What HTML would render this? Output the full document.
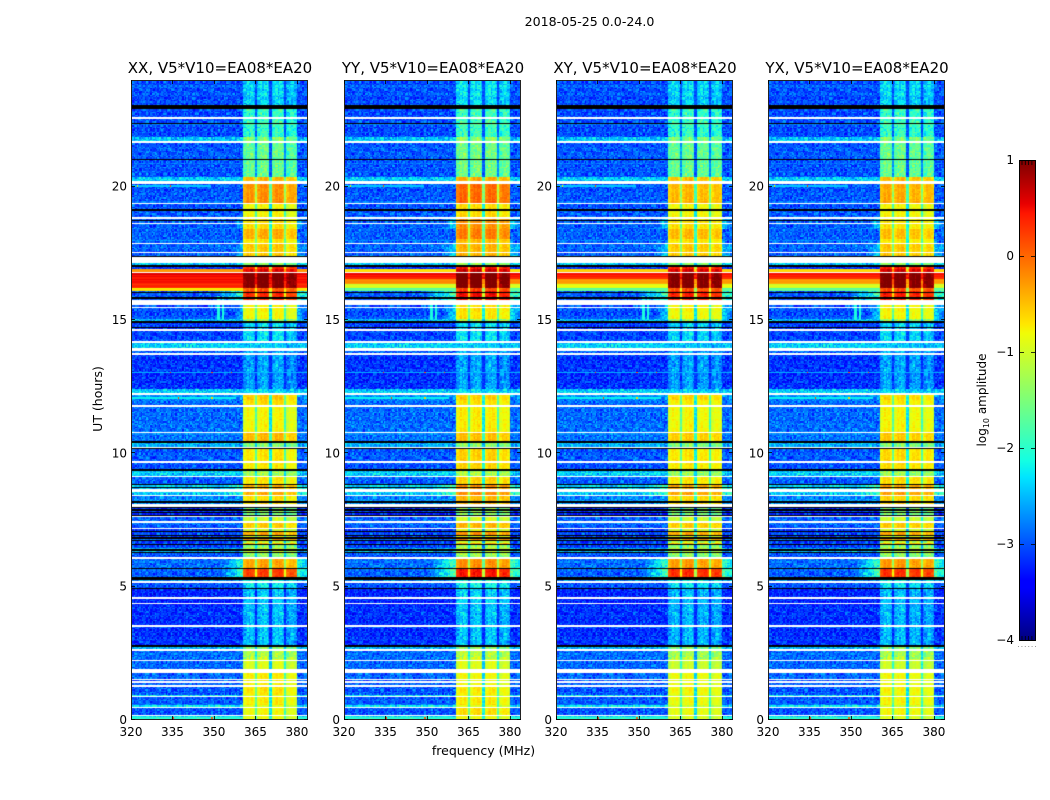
<!DOCTYPE html>
<html lang="en">
<head>
<meta charset="utf-8">
<title>2018-05-25 spectrogram</title>
<style>
html,body{margin:0;padding:0;background:#fff;}
#figure{position:relative;width:1050px;height:800px;overflow:hidden;background:#fff;}
canvas{position:absolute;top:80px;display:block;}
svg{position:absolute;left:0;top:0;}
text{font-family:"DejaVu Sans","Liberation Sans",sans-serif;fill:#000;}
</style>
</head>
<body>
<div id="figure">
<canvas id="heat0" width="177" height="640" style="left:131px"></canvas>
<canvas id="heat1" width="177" height="640" style="left:344px"></canvas>
<canvas id="heat2" width="177" height="640" style="left:556px"></canvas>
<canvas id="heat3" width="177" height="640" style="left:768px"></canvas>
<svg id="overlay" width="1050" height="800" viewBox="0 0 1050 800">
<defs>
<linearGradient id="jetGradient" x1="0" y1="1" x2="0" y2="0">
<stop offset="0" stop-color="#00007f"/><stop offset="0.11" stop-color="#0000ff"/>
<stop offset="0.125" stop-color="#0000ff"/><stop offset="0.34" stop-color="#00e5ff"/>
<stop offset="0.375" stop-color="#14ffe2"/><stop offset="0.5" stop-color="#7cff79"/>
<stop offset="0.64" stop-color="#f1fc06"/><stop offset="0.66" stop-color="#ffe600"/>
<stop offset="0.89" stop-color="#ff1600"/><stop offset="0.91" stop-color="#e80000"/>
<stop offset="1" stop-color="#7f0000"/>
</linearGradient>
</defs>
<text x="589.5" y="26" text-anchor="middle" font-size="12.6">2018-05-25 0.0-24.0</text>
<text x="102" y="399" text-anchor="middle" font-size="12.5" transform="rotate(-90 102 399)">UT (hours)</text>
<text x="483.5" y="755" text-anchor="middle" font-size="12.5">frequency (MHz)</text>
<rect x="1019.5" y="160.5" width="16" height="480" fill="url(#jetGradient)" stroke="#000" stroke-width="1"/>
<text x="986" y="400" text-anchor="middle" font-size="12" transform="rotate(-90 986 400)">log<tspan dy="3" font-size="8">10</tspan><tspan dy="-3"> amplitude</tspan></text>
</svg>
</div>
<script>
/* Values below are estimated by eye from the reference, one level per time segment.
   Individual pixels cannot be read, so speckleA/speckleB are a hand-typed visual grain,
   not measured data. */
const polarisations = ['XX', 'YY', 'XY', 'YX'];
const panelTitles = ['XX, V5*V10=EA08*EA20', 'YY, V5*V10=EA08*EA20', 'XY, V5*V10=EA08*EA20', 'YX, V5*V10=EA08*EA20'];
const freqTicks = [320, 335, 350, 365, 380];
const hourTicks = [0, 5, 10, 15, 20];
const colorbarTicks = [1, 0, -1, -2, -3, -4];

const segmentStartHour = [0,.15,.47,.55,.86,.97,1.29,1.9,2.3,2.61,
 2.8,4.4,4.9,5.15,5.33,5.7,6.09,6.29,6.45,6.55,
 6.65,6.75,6.85,6.95,7.05,7.15,7.41,7.62,7.71,8.01,
 8.45,8.8,9.13,9.4,10.16,10.4,10.8,11.78,12.0,12.27,
 12.4,13.71,13.95,14.16,14.9,15.07,15.75,16.12,16.2,16.35,
 16.55,16.77,16.8,16.92,17.03,17.33,17.9,18.05,18.4,18.8,
 19.4,20.14,20.36,21.68,21.83,22.95];
const offBandLevel = [-2.3,-2.95,-2.2,-2.95,-2.2,-2.95,-2.9,-2.9,-2.85,-2.5,
 -3.15,-3.2,-3.0,-2.7,-2.9,-2.85,-3.0,-2.5,-3.1,-3.0,
 -3.1,-2.9,-3.1,-3.0,-3.1,-2.9,-2.9,-2.6,-3.2,-2.7,
 -2.45,-2.9,-2.4,-2.95,-2.5,-2.8,-2.85,-2.85,-2.7,-2.35,
 -3.15,-2.9,-2.35,-3.05,-2.5,-3.0,-2.95,-0.7,0.3,0.45,
 0.5,0,-0.2,-3.1,-2.4,-2.9,-2.9,-2.9,-2.9,-2.95,
 -2.95,-2.4,-2.95,-2.4,-3.0,-3.0];
const inBandXX = [-.9,-.85,-1,-.8,-1,-.75,-.8,-1,-1.25,-1.45,
 -2.5,-2.45,-2.3,-2.1,.15,-.4,-1.5,-1.1,-1.5,-.5,
 -1.2,-.3,-1,-.4,-1.1,-.6,-1.1,-1.3,-1.6,-.7,
 -.45,-.75,-1.35,-.75,-1.5,-.5,-.85,-.7,-.6,-2.3,
 -2.65,-2.6,-2.4,-2.35,-1.4,-.85,.25,0,.95,.95,
 1,.6,.5,.3,-1.5,-.6,-.75,-.45,-.7,-.85,
 -.3,-.5,-1.7,-1.5,-2.0,-2.4];
const inBandYY = [-.9,-.7,-1,-.8,-1,-.8,-.9,-1,-1.2,-1.45,
 -2.5,-2.4,-2.25,-2.1,.35,-.3,-1.4,-1.1,-1.4,-.4,
 -1.1,-.2,-.9,-.3,-1,-.5,-1.05,-1.3,-1.5,-.5,
 -.3,-.65,-1.3,-.65,-1.45,-.55,-.8,-.75,-.65,-2.3,
 -2.65,-2.6,-2.4,-2.35,-1.35,-.75,.4,.1,.95,1,
 1,.7,.6,.4,-1.4,-.5,-.55,-.2,-.3,-.7,
 -.1,-.45,-1.65,-1.45,-1.95,-2.35];
const inBandXY = [-1,-.9,-1.1,-.9,-1.1,-.85,-.9,-1.1,-1.3,-1.5,
 -2.55,-2.5,-2.35,-2.15,.25,-.35,-1.5,-1.15,-1.5,-.5,
 -1.2,-.3,-1,-.4,-1.1,-.6,-1.1,-1.3,-1.6,-.65,
 -.4,-.75,-1.4,-.75,-1.5,-.6,-.85,-.8,-.65,-2.35,
 -2.65,-2.6,-2.45,-2.4,-1.4,-.85,.3,.05,.95,.95,
 .95,.65,.55,.35,-1.5,-.6,-.75,-.5,-.7,-.85,
 -.5,-.55,-1.7,-1.55,-2.0,-2.4];
const inBandYX = [-1,-.85,-1.1,-.85,-1.1,-.85,-.9,-1.1,-1.3,-1.5,
 -2.55,-2.5,-2.35,-2.15,.2,-.35,-1.5,-1.15,-1.5,-.5,
 -1.2,-.3,-1,-.4,-1.1,-.6,-1.1,-1.3,-1.6,-.65,
 -.4,-.7,-1.4,-.7,-1.5,-.6,-.85,-.8,-.7,-2.35,
 -2.65,-2.6,-2.45,-2.4,-1.4,-.85,.3,.05,.95,.95,
 .95,.65,.55,.35,-1.5,-.6,-.8,-.55,-.75,-.85,
 -.45,-.55,-1.7,-1.55,-2.0,-2.4];

const strongRfiFirstSegment = 47;
const strongRfiXX = [-.7, .3, .45, .5, 0, -.2];
const strongRfiYY = [-1.7, -1.0, -.2, .45, -.4, -.6];
const strongRfiXY = [-1.7, -.9, -.3, .4, -.5, -.5];
const strongRfiYX = [-1.7, -1.0, -.3, .4, -.5, -.55];

const subbandStartMHz = [360.5, 365.7, 371, 376];
const subbandEndMHz = [365, 370, 375.3, 380];
const subbandTrimXX = [0, .05, .05, -.1];
const subbandTrimYY = [.05, .05, .05, -.05];
const subbandTrimXY = [0, .05, 0, -.05];
const subbandTrimYX = [.05, .05, 0, -.05];
const gapDepth = [.9, 1.4, 1.0];
const subbandRipple = [-.15, -.05, .05, .1, 0, .08, .1, .02, -.1];

const glowSegments = [14, 15, 30, 45, 46, 55, 58];
const glowPeak = [-1.9, -2.0, -2.1, -2.4, -2.0, -2.5, -2.5];
const glowReachMHz = [8, 7, 8, 3, 10, 4, 3];
const glowBoost = [0, .2, .15, .15];

const flaggedHours = [22.56,21.68,19.37,18.81,18.6,17.87,17.53,16.77,15.47,14.61,14.16,13.71,11.78,10.79,10.23,9.66,9.13,8.43,7.62,7.41,7.15,6.09,5.15,4.58,4.38,3.55,2.61,2.21,1.53,1.44,1.29,.86,.49,.19];
const flaggedRangeStart = [20.1, 17.14, 15.56, 13.84, 12.19, 8.56, 8.01, 1.75];
const flaggedRangeEnd = [20.18, 17.33, 15.75, 13.95, 12.27, 8.64, 8.11, 1.88];
const maskedHours = [22.37,21.02,19.14,18.73,17.36,17.03,16.02,15.83,14.91,14.73,10.4,10.16,9.38,8.82,8.72,8.18,7.96,7.86,7.76,7.66,7.05,6.94,6.83,6.71,6.6,6.36,6.26,5.67,4.91,2.79];
const maskedRangeStart = [22.91, 5.25];
const maskedRangeEnd = [23.03, 5.33];

const patchFreqStart = [351,353,320,320,320,320,334,322,337,349,334,349,356,335,349];
const patchFreqEnd = [351.8,353.4,349,384,358,384,334.5,322.5,337.5,349.5,334.5,349.5,356.5,335.5,349.5];
const patchHourStart = [15,15,20,13,12.05,.05,20,20,12.05,12.05,13,13,13,.05,.05];
const patchHourEnd = [15.9,15.9,20.05,13.05,12.1,.1,20.05,20.05,12.1,12.1,13.05,13.05,13.05,.1,.1];
const patchLevel = [-2.1,-2.1,-2.4,-2.5,-2.2,-2.0,.2,-.7,.2,-.6,.3,.1,.1,.3,.1];

const speckleA = [.22,-.31,.05,.34,-.12,-.27,.17,-.04,.29,-.36,.11,-.19,.31,-.08,.02,-.33,.25,.08,-.22,.36,-.15,.13,-.02];
const speckleB = [-.14,.09,.2,-.25,.03,.16,-.09,-.2,.24,-.03,.12,-.17,.06,.18,-.26,.1,-.06,.22,-.12,.01,.15,-.23,.07,-.1,.19,-.16,.04,.13,-.19];

const inBandByPol = [inBandXX, inBandYY, inBandXY, inBandYX];
const strongRfiByPol = [strongRfiXX, strongRfiYY, strongRfiXY, strongRfiYX];
const subbandTrimByPol = [subbandTrimXX, subbandTrimYY, subbandTrimXY, subbandTrimYX];

const panelLeft = [131, 344, 556, 768];
const panelWidth = 177;
const plotTop = 80;
const plotBottom = 720;
const freqMin = 320;
const freqMax = 384;
const hourMax = 24;
const channelMHz = 0.5;
const rowHours = 0.05;
const nChannels = 128;
const nRows = 480;
const SVGNS = 'http://www.w3.org/2000/svg';
const overlay = document.getElementById('overlay');

function xScale(freq, left) { return left + (freq - freqMin) * panelWidth / (freqMax - freqMin); }
function yScale(hour) { return plotBottom - hour * (plotBottom - plotTop) / hourMax; }
function colorbarY(level) { return 160.5 + (1 - level) * 96; }

function piece(stops, v) {
  for (let i = 1; i < stops.length; i++) {
    if (v <= stops[i][0]) {
      const a = stops[i - 1], b = stops[i];
      return a[1] + (b[1] - a[1]) * (v - a[0]) / (b[0] - a[0]);
    }
  }
  return stops[stops.length - 1][1];
}
const jetR = [[0,0],[.35,0],[.66,1],[.89,1],[1,.5]];
const jetG = [[0,0],[.125,0],[.375,1],[.64,1],[.91,0],[1,0]];
const jetB = [[0,.5],[.11,1],[.34,1],[.65,0],[1,0]];
function jet(level) {
  const v = Math.min(1, Math.max(0, (level + 4) / 5));
  return [piece(jetR, v) * 255, piece(jetG, v) * 255, piece(jetB, v) * 255];
}

function rowFlags() {
  const flags = new Uint8Array(nRows);
  flaggedHours.forEach(function (h) { flags[Math.floor(h / rowHours)] = 1; });
  flaggedRangeStart.forEach(function (s, i) {
    for (let r = Math.round(s / rowHours); r < Math.round(flaggedRangeEnd[i] / rowHours); r++) flags[r] = 1;
  });
  maskedHours.forEach(function (h) { flags[Math.floor(h / rowHours)] = 2; });
  maskedRangeStart.forEach(function (s, i) {
    for (let r = Math.round(s / rowHours); r < Math.round(maskedRangeEnd[i] / rowHours); r++) flags[r] = 2;
  });
  return flags;
}

function segmentOfHour(hour) {
  let seg = 0;
  for (let i = 0; i < segmentStartHour.length; i++) if (segmentStartHour[i] <= hour) seg = i;
  return seg;
}

function cellLevel(pol, seg, row, col) {
  const hour = (row + .5) * rowHours;
  const freq = freqMin + (col + .5) * channelMHz;
  const idx = col * col * 3 + row * row * 5 + col * row;
  const grain = speckleA[idx % 23] + speckleB[(col * 7 + row * 11 + col * row * 2) % 29];
  let off = offBandLevel[seg];
  const strongIdx = seg - strongRfiFirstSegment;
  if (strongIdx >= 0 && strongIdx < strongRfiXX.length) off = strongRfiByPol[pol][strongIdx];
  const strong = off > -2;
  const inLevel = inBandByPol[pol][seg];
  let level;
  let inBand = false;
  for (let b = 0; b < 4; b++) {
    if (freq >= subbandStartMHz[b] && freq < subbandEndMHz[b]) {
      const rippleIdx = Math.min(8, Math.floor((freq - subbandStartMHz[b]) / (subbandEndMHz[b] - subbandStartMHz[b]) * 9));
      level = inLevel + subbandTrimByPol[pol][b] + subbandRipple[rippleIdx] + grain * (inLevel > -1.2 ? .25 : .7);
      inBand = true;
    } else if (b < 3 && freq >= subbandEndMHz[b] && freq < subbandStartMHz[b + 1]) {
      level = Math.max(inLevel - gapDepth[b], off) + grain * .35;
      inBand = true;
    }
  }
  if (!inBand) {
    let base = off;
    const g = glowSegments.indexOf(seg);
    if (g >= 0) {
      const dist = freq < 360.5 ? 360.5 - freq : freq - 380;
      const peak = glowPeak[g] + glowBoost[pol];
      const reach = glowReachMHz[g] + glowBoost[pol] * 10;
      base = Math.max(base, peak + (off - peak) * dist / reach);
    }
    level = base + (strong ? speckleA[row % 23] * .25 : grain * .8);
  }
  for (let p = 0; p < patchLevel.length; p++) {
    if (freq >= patchFreqStart[p] && freq < patchFreqEnd[p] && hour >= patchHourStart[p] && hour < patchHourEnd[p]) {
      level = Math.max(level, patchLevel[p]);
    }
  }
  return level;
}

function drawHeatmap(pol) {
  const flags = rowFlags();
  const buffer = document.createElement('canvas');
  buffer.width = nChannels;
  buffer.height = nRows;
  const bctx = buffer.getContext('2d');
  const image = bctx.createImageData(nChannels, nRows);
  for (let row = 0; row < nRows; row++) {
    const seg = segmentOfHour((row + .5) * rowHours);
    const py = nRows - 1 - row;
    for (let col = 0; col < nChannels; col++) {
      const i = (py * nChannels + col) * 4;
      let rgb;
      if (flags[row] === 1) rgb = [255, 255, 255];
      else if (flags[row] === 2) rgb = [0, 0, 0];
      else rgb = jet(cellLevel(pol, seg, row, col));
      image.data[i] = rgb[0];
      image.data[i + 1] = rgb[1];
      image.data[i + 2] = rgb[2];
      image.data[i + 3] = 255;
    }
  }
  bctx.putImageData(image, 0, 0);
  const canvas = document.getElementById('heat' + pol);
  const ctx = canvas.getContext('2d');
  ctx.imageSmoothingEnabled = false;
  ctx.drawImage(buffer, 0, 0, canvas.width, canvas.height);
}

function makeLine(x1, y1, x2, y2, width) {
  const el = document.createElementNS(SVGNS, 'line');
  el.setAttribute('x1', x1);
  el.setAttribute('y1', y1);
  el.setAttribute('x2', x2);
  el.setAttribute('y2', y2);
  el.setAttribute('stroke', '#000');
  el.setAttribute('stroke-width', width);
  overlay.appendChild(el);
  return el;
}
function makeText(x, y, anchor, size, content) {
  const el = document.createElementNS(SVGNS, 'text');
  el.setAttribute('x', x);
  el.setAttribute('y', y);
  el.setAttribute('text-anchor', anchor);
  el.setAttribute('font-size', size);
  el.textContent = content;
  overlay.appendChild(el);
  return el;
}

function drawAxes(pol) {
  const left = panelLeft[pol];
  const right = left + panelWidth;
  const frame = document.createElementNS(SVGNS, 'rect');
  frame.setAttribute('x', left + .5);
  frame.setAttribute('y', plotTop + .5);
  frame.setAttribute('width', panelWidth - 1);
  frame.setAttribute('height', plotBottom - plotTop - 1);
  frame.setAttribute('fill', 'none');
  frame.setAttribute('stroke', '#222');
  frame.setAttribute('stroke-width', 1);
  
  
  overlay.appendChild(frame);

  const title = makeText(left + panelWidth / 2 + .5, 73, 'middle', 15, panelTitles[pol]);
  
  

  freqTicks.forEach(function (f) {
    const x = Math.round(xScale(f, left)) + .5;
    const bottomTick = makeLine(x, plotBottom, x, plotBottom - 4, .8);
    
    
    const topTick = makeLine(x, plotTop, x, plotTop + 4, .8);
    
    
    const label = makeText(xScale(f, left), 736, 'middle', 12, String(f));
    
    
  });
  hourTicks.forEach(function (h) {
    const y = Math.round(yScale(h)) - .5;
    const leftTick = makeLine(left, y, left + 4, y, .8);
    
    
    const rightTick = makeLine(right, y, right - 4, y, .8);
    
    
    const label = makeText(left - 4, yScale(h) + 4, 'end', 12, String(h));
    
    
  });
}

function drawColorbarAxis() {
  colorbarTicks.forEach(function (v) {
    const y = colorbarY(v);
    const leftTick = makeLine(1019.5, y, 1024, y, .8);
    
    
    const rightTick = makeLine(1035.5, y, 1031, y, .8);
    
    
    const text = (v < 0 ? '\u2212' : '') + Math.abs(v);
    const label = makeText(1014, y + 3.5, 'end', 12, text);
    
    
  });
  [1022, 1025.3, 1028.6, 1031.9].forEach(function (x) {
    const topMark = makeLine(x, 161, x, 165, .8);
    
    
    const bottomMark = makeLine(x, 640, x, 636, .8);
    
    
  });
  [1018, 1021.4, 1024.8, 1028.2, 1031.6, 1035].forEach(function (x) {
    const dot = document.createElementNS(SVGNS, 'rect');
    dot.setAttribute('x', x);
    dot.setAttribute('y', 646);
    dot.setAttribute('width', 1);
    dot.setAttribute('height', 1);
    dot.setAttribute('fill', '#999');
    
    
    overlay.appendChild(dot);
  });
}

polarisations.forEach(function (name, pol) {
  drawHeatmap(pol);
  drawAxes(pol);
});
drawColorbarAxis();
</script>
</body>
</html>
